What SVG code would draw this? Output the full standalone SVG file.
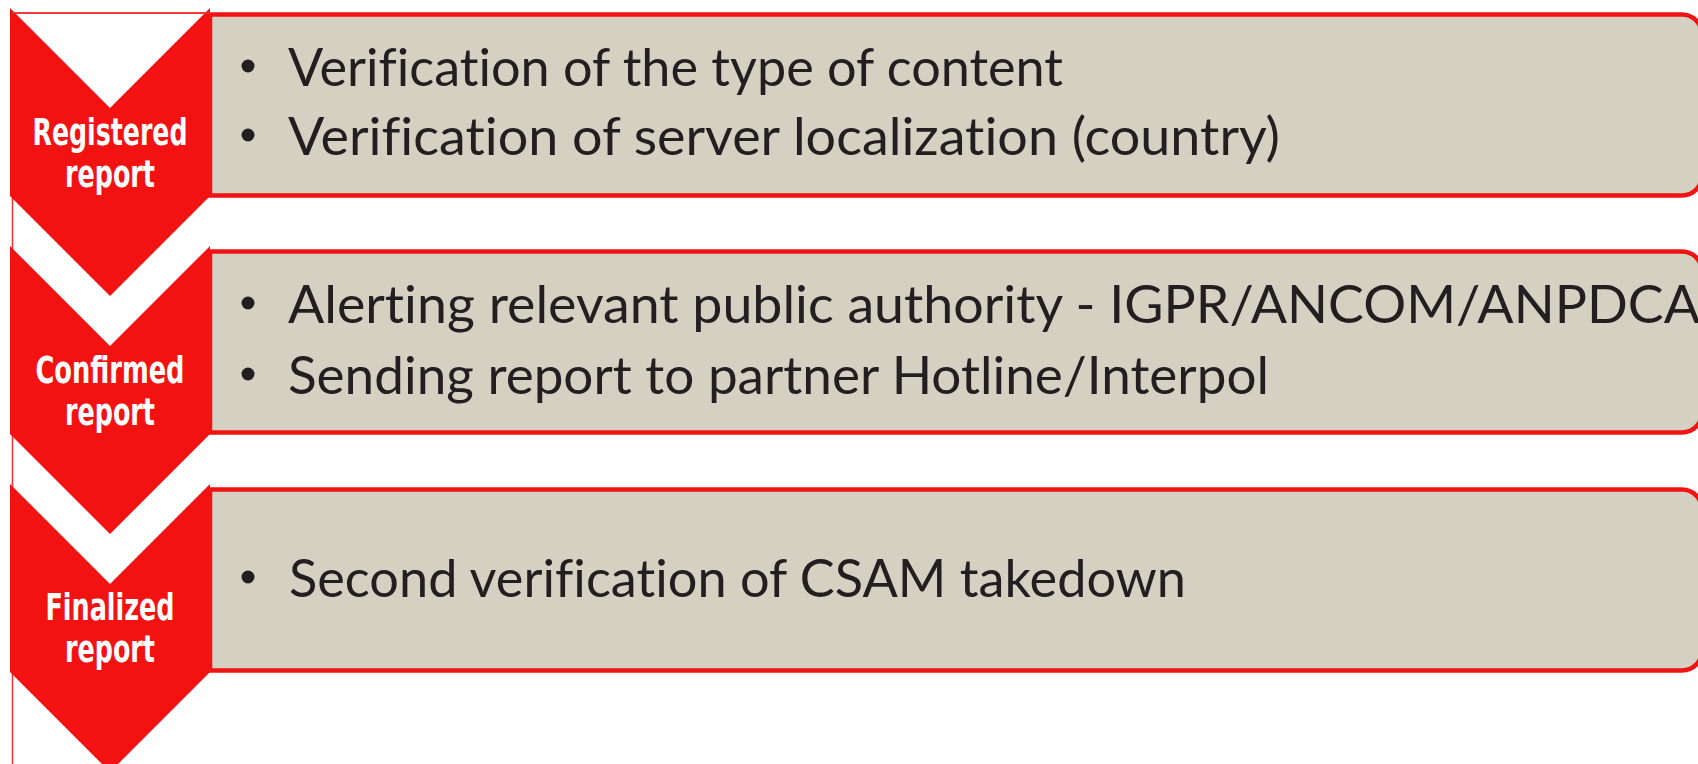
<svg xmlns="http://www.w3.org/2000/svg" width="1698" height="764" viewBox="0 0 1698 764">
<style>
  .box { fill: #D5D1C2; stroke: #F01313; stroke-width: 4.5; }
  .chev { fill: #F21212; }
  .frame { fill: none; stroke: #F03030; stroke-width: 1.5; }
  .body { font-family: Lato, "Liberation Sans", sans-serif; font-size: 53px; fill: #231F20; font-variant-ligatures: none; }
  .lbl { font-family: "DejaVu Sans Condensed", "DejaVu Sans", sans-serif; font-weight: bold; font-size: 38px; fill: #FFFFFF; text-anchor: middle; }
  .bul { fill: #231F20; }
</style>
<rect width="1698" height="764" fill="#FFFFFF"/>
<g id="frame">
  <path class="frame" d="M12.5,764 V13 H210"/>
</g>
<g id="step1">
  <path class="box" d="M210,14.5 H1682 A20,20 0 0 1 1702,34.5 V175.5 A20,20 0 0 1 1682,195.5 H210 Z"/>
  <polygon class="chev" points="10,8 110,108 210,8 210,196 110,296 10,196"/>
  <line class="frame" x1="12" y1="13" x2="210" y2="13"/>
  <text class="lbl" x="110" y="145" textLength="155" lengthAdjust="spacingAndGlyphs">Registered</text>
  <text class="lbl" x="110" y="187" textLength="90" lengthAdjust="spacingAndGlyphs">report</text>
  <circle class="bul" cx="248" cy="66" r="6.5"/>
  <circle class="bul" cx="248" cy="135" r="6.5"/>
  <text class="body" x="288" y="85.5" textLength="775" lengthAdjust="spacingAndGlyphs">Verification of the type of content</text>
  <text class="body" x="288" y="155" textLength="992" lengthAdjust="spacingAndGlyphs">Verification of server localization (country)</text>
</g>
<g id="step2">
  <path class="box" d="M210,251.5 H1682 A20,20 0 0 1 1702,271.5 V412.5 A20,20 0 0 1 1682,432.5 H210 Z"/>
  <polygon class="chev" points="10,246 110,346 210,246 210,434 110,534 10,434"/>
  <text class="lbl" x="110" y="383" textLength="149" lengthAdjust="spacingAndGlyphs">Confirmed</text>
  <text class="lbl" x="110" y="425" textLength="90" lengthAdjust="spacingAndGlyphs">report</text>
  <circle class="bul" cx="248" cy="303" r="6.5"/>
  <circle class="bul" cx="248" cy="374" r="6.5"/>
  <text class="body" x="288" y="322.5" textLength="1412" lengthAdjust="spacingAndGlyphs">Alerting relevant public authority - IGPR/ANCOM/ANPDCA</text>
  <text class="body" x="288" y="393.5" textLength="981" lengthAdjust="spacingAndGlyphs">Sending report to partner Hotline/Interpol</text>
</g>
<g id="step3">
  <path class="box" d="M210,489.5 H1682 A20,20 0 0 1 1702,509.5 V650.5 A20,20 0 0 1 1682,670.5 H210 Z"/>
  <polygon class="chev" points="10,484 110,584 210,484 210,672 110,772 10,672"/>
  <text class="lbl" x="110" y="620" textLength="129" lengthAdjust="spacingAndGlyphs">Finalized</text>
  <text class="lbl" x="110" y="662" textLength="90" lengthAdjust="spacingAndGlyphs">report</text>
  <circle class="bul" cx="248" cy="577" r="6.5"/>
  <text class="body" x="289" y="596.5" textLength="897" lengthAdjust="spacingAndGlyphs">Second verification of CSAM takedown</text>
</g>
<g id="connectors"></g>
</svg>
